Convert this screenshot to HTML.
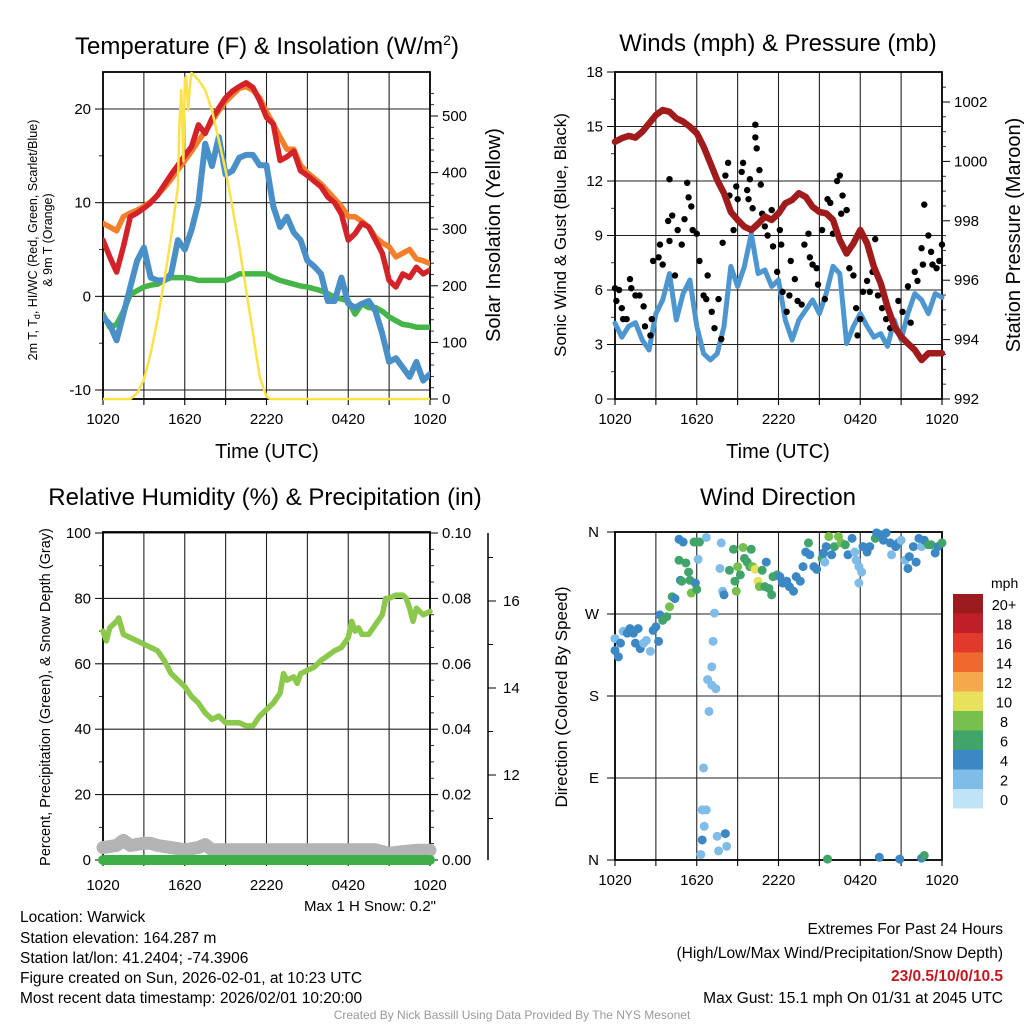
<!DOCTYPE html>
<html><head><meta charset="utf-8">
<style>
html,body{margin:0;padding:0;background:#fff;}
body{width:1024px;height:1024px;overflow:hidden;font-family:"Liberation Sans",Arial,sans-serif;}
svg text{font-family:"Liberation Sans",Arial,sans-serif;fill:#000;}
</style></head>
<body>
<svg id="c" width="1024" height="1024" viewBox="0 0 1024 1024" xmlns="http://www.w3.org/2000/svg">
<g id="static">
<text x="267" y="54" font-size="24" text-anchor="middle">Temperature (F) &amp; Insolation (W/m<tspan font-size="14" dy="-9">2</tspan><tspan dy="9">)</tspan></text>
<text x="778" y="51" font-size="24" text-anchor="middle">Winds (mph) &amp; Pressure (mb)</text>
<text x="265" y="505" font-size="24" text-anchor="middle">Relative Humidity (%) &amp; Precipitation (in)</text>
<text x="778" y="505" font-size="24" text-anchor="middle">Wind Direction</text>
<text x="267" y="458" font-size="20" text-anchor="middle">Time (UTC)</text>
<text x="778" y="458" font-size="20" text-anchor="middle">Time (UTC)</text>
<text transform="translate(37,240) rotate(-90)" font-size="12.5" text-anchor="middle">2m T, T<tspan font-size="9" dy="3">d</tspan><tspan dy="-3">, HI/WC (Red, Green, Scarlet/Blue)</tspan></text>
<text transform="translate(52,240) rotate(-90)" font-size="12.5" text-anchor="middle">&amp; 9m T (Orange)</text>
<text transform="translate(500,235) rotate(-90)" font-size="20" text-anchor="middle">Solar Insolation (Yellow)</text>
<text transform="translate(566,235) rotate(-90)" font-size="17" text-anchor="middle">Sonic Wind &amp; Gust (Blue, Black)</text>
<text transform="translate(1020,235) rotate(-90)" font-size="20" text-anchor="middle">Station Pressure (Maroon)</text>
<text transform="translate(50,697) rotate(-90)" font-size="14.5" text-anchor="middle">Percent, Precipitation (Green), &amp; Snow Depth (Gray)</text>
<text transform="translate(567,697) rotate(-90)" font-size="17" text-anchor="middle">Direction (Colored By Speed)</text>
<text x="436" y="911" font-size="15" text-anchor="end" fill="#222">Max 1 H Snow: 0.2"</text>
<g font-size="15.5">
<text x="20" y="922">Location: Warwick</text>
<text x="20" y="943">Station elevation: 164.287 m</text>
<text x="20" y="963">Station lat/lon: 41.2404; -74.3906</text>
<text x="20" y="983">Figure created on Sun, 2026-02-01, at 10:23 UTC</text>
<text x="20" y="1003">Most recent data timestamp: 2026/02/01 10:20:00</text>
</g>
<g font-size="15.5" text-anchor="end">
<text x="1003" y="934">Extremes For Past 24 Hours</text>
<text x="1003" y="958">(High/Low/Max Wind/Precipitation/Snow Depth)</text>
<text x="1003" y="981" font-weight="bold" style="fill:#c8161d">23/0.5/10/0/10.5</text>
<text x="1003" y="1003">Max Gust: 15.1 mph On 01/31 at 2045 UTC</text>
</g>
<text x="512" y="1019" font-size="12" text-anchor="middle" style="fill:#999">Created By Nick Bassill Using Data Provided By The NYS Mesonet</text>
</g>
</svg>
<script>
// ---------- data ----------
const hourLabels=["1020","1620","2220","0420","1020"];
const halfHours=[0,0.5,1,1.5,2,2.5,3,3.5,4,4.5,5,5.5,6,6.5,7,7.5,8,8.5,9,9.5,10,10.5,11,11.5,12,12.5,13,13.5,14,14.5,15,15.5,16,16.5,17,17.5,18,18.5,19,19.5,20,20.5,21,21.5,22,22.5,23,23.5,24];
const tempRed=[6.0,4.2,2.6,5.3,8.5,8.9,9.4,10,10.8,11.9,13,14,15,16,18.3,17.4,19,20.1,21.2,21.9,22.4,22.8,22.3,20.9,19.1,18.4,14.5,14.9,15.5,13.4,12.9,12.3,11.7,10.6,10,8.8,6,6.7,7.8,7.4,6,4.6,1.7,1,2.4,2,3.1,2.4,2.8];
const tempOrange=[7.8,7.4,7.0,8.5,8.9,9.2,9.6,10.1,10.8,11.6,12.5,13.5,14.5,15.5,16.6,17.6,18.7,19.8,20.8,21.5,22.2,22.4,22,21.2,19.7,18.4,17,15.7,15.7,14,13.2,12.6,12,11.2,10.4,9.6,8.5,8.5,8,7.4,6.3,5.7,5.3,4.2,4.6,5,4,3.8,3.5];
const tempBlue=[-2.2,-3,-4.7,-1.9,1,3.8,5.2,2,1.7,1.7,2.4,6,5,7.1,10,16.3,13.9,17,13,13.4,14.8,15.1,15.1,14,14,9.6,7.4,8.5,6.8,6,3.8,3.2,2.4,-0.5,-0.5,2,-0.8,-1.2,-0.8,-0.5,-1.6,-4,-7,-6.6,-7.6,-8.6,-7,-9,-8.3];
const tempGreen=[-1.9,-3.3,-3,-1.6,0.2,0.6,1,1.2,1.3,1.7,2,2,2,1.9,1.7,1.7,1.7,1.7,1.7,2,2.4,2.4,2.4,2.4,2.4,2,1.7,1.5,1.3,1.1,1,0.8,0.6,0.3,-0.1,-0.3,-0.5,-1.9,-0.8,-1.2,-1.2,-1.6,-2.2,-2.6,-3,-3.1,-3.3,-3.3,-3.3];
const solarHours=[0,2,2.5,3,3.5,4,4.5,5,5.5,5.6,5.75,5.9,6,6.1,6.25,6.4,6.5,7,7.5,8,8.5,9,9.5,10,10.5,11,11.5,12,12.3,24];
const solarValues=[0,0,10,34,81,140,210,286,374,480,546,420,564,570,510,560,576,564,546,510,457,404,339,269,193,117,39,4,0,0];
const pressure=[1000.66,1000.78,1000.86,1000.8,1001,1001.28,1001.56,1001.73,1001.67,1001.45,1001.34,1001.17,1000.95,1000.5,999.94,999.37,998.93,998.3,998.03,997.8,997.69,997.9,998.14,998.03,998.25,998.59,998.7,998.93,998.8,998.47,998.3,998.25,998.03,997.35,996.9,997.24,997.69,997.24,996.45,995.9,995.1,994.44,994.1,993.87,993.65,993.31,993.54,993.54,993.54];
const windSpeed=[4.17,3.4,4,4.2,3.25,2.7,4.7,5.45,6.9,4.35,5.8,6.55,4,2.5,2.15,2.5,4,7.3,6.2,7.3,9.1,6.9,7.1,6.2,6.55,4.35,3.25,4.35,4.9,5.45,4.7,5.8,7.3,6.9,3.05,4,4.7,4,3.4,3.6,2.9,4.35,3.25,4.7,5.8,5.45,4.7,5.8,5.6];
const gustHours=[0,0.3,0.1,0.5,0.6,0.85,1.1,1.2,1.5,1.8,2.1,2.2,2.6,2.7,2.8,3.2,3.3,3.5,3.9,4.0,4.0,4.2,4.4,4.6,4.9,5.1,5.3,5.4,5.6,5.7,6.0,6.2,6.5,6.7,6.8,7.1,7.3,7.6,7.8,7.9,8.1,8.3,8.4,8.7,8.9,9.0,9.3,9.4,9.7,9.8,9.9,10.1,10.3,10.3,10.4,10.6,10.7,10.8,11.0,11.2,11.5,11.6,11.9,12.1,12.2,12.3,12.6,12.8,12.9,13.2,13.4,13.7,13.9,14.2,14.3,14.5,14.8,14.9,15.2,15.4,15.6,15.8,16.0,16.3,16.5,16.6,16.7,17.0,17.2,17.5,17.7,17.8,18.0,18.2,18.5,18.7,18.9,19.1,19.3,19.6,19.9,20.2,20.5,20.8,21.1,21.5,21.7,22.0,22.2,22.5,22.6,22.7,23.0,23.2,23.3,23.6,23.8,24.0];
const gustSpeed=[6.1,6.0,5.4,5.0,4.4,4.4,6.6,6.1,5.7,5.7,5.1,4.0,3.5,4.4,7.6,7.8,8.5,7.4,9.8,12.1,8.7,10.1,6.8,9.3,8.5,9.9,11.9,11.1,10.6,9.3,9.1,7.6,5.7,5.5,6.8,4.8,3.9,5.5,3.3,8.6,12.3,13.0,11.2,9.3,11.7,11.0,12.5,13.0,11.5,11.0,12.1,10.5,14.4,15.1,13.8,12.6,11.8,10.2,9.5,9.0,10.4,8.4,7.0,9.3,8.5,5.9,4.8,5.7,7.6,6.6,5.4,5.2,8.5,9.1,7.8,7.4,7.2,6.3,9.3,5.5,11.0,10.8,9.1,12.0,12.3,10.2,11.2,10.4,7.2,6.8,5.0,3.5,4.4,5.9,6.5,5.9,7.0,8.8,5.7,5.0,4.4,3.9,4.0,5.4,4.8,6.2,4.2,7.0,6.5,8.3,7.4,10.7,9.0,8.1,7.4,7.2,7.6,8.5];
const rhHours=[0,0.25,0.5,1,1.15,1.5,2,2.5,3,4,4.5,5,5.5,6,6.5,7,7.5,8,8.5,9,9.5,10,10.5,11,11.5,12,12.5,13,13.25,13.5,14,14.25,14.5,15,15.5,16,16.5,17,17.5,18,18.25,18.5,18.75,19,19.5,20,20.5,20.75,21,21.5,22,22.25,22.5,22.75,23,23.5,24];
const rhValues=[70,67,71,73,74,69,68,67,66,64,61,57,55,53,50,48,45,43,44,42,42,42,41,41,44,46,48,51,57,55,56,54,57,58,59,61,62.5,64,65,68,73,70,71,69,69,72,75,80,80,81,81,80,77,73,77,75,76];
const snowHours=[0,1,1.5,2,3,3.5,4,5,6,7,7.5,8,10,14,18,20,21,22,23,24];
const snowDepth=[10.33,10.38,10.5,10.38,10.43,10.43,10.38,10.33,10.28,10.33,10.4,10.28,10.28,10.28,10.28,10.28,10.2,10.24,10.27,10.27];
const precipValues=[0,0];
const dirHours=[0,0,0.25,0.4,0.6,0.9,1.1,1.35,1.5,1.7,1.85,2.1,2.3,2.6,2.8,3.0,3.2,3.3,3.5,3.8,4.0,4.2,4.4,4.7,4.8,4.9,4.7,5.0,5.2,5.4,5.5,5.6,5.9,6.0,5.8,6.0,6.2,6.1,6.7,7.3,7.2,7.1,6.8,7.1,7.4,6.9,6.5,6.4,6.7,6.55,6.4,6.3,7.5,7.6,8.1,8.2,7.7,7.8,7.9,8.0,8.4,8.7,8.8,8.9,9.0,9.2,9.4,9.5,9.7,9.9,10.0,10.1,10.3,10.5,10.6,10.8,11.0,11.1,11.3,11.5,11.6,11.9,12.1,12.3,12.6,12.8,13.1,13.3,13.6,13.8,14.0,14.2,14.3,14.6,14.8,15.2,15.3,15.4,15.5,15.7,15.9,16.1,16.4,16.6,16.9,17.1,17.4,17.6,17.7,17.9,18.1,17.9,18.2,18.5,18.7,19.1,19.2,19.5,19.7,19.9,20.2,20.3,20.6,20.8,21.0,21.3,21.5,21.6,21.9,22.1,22.3,22.5,22.7,23.0,23.2,23.5,23.7,24.0,15.6,19.4,20.9,22.5,22.7];
const dirDegrees=[230,243,223,238,251,249,254,249,238,254,232,238,241,229,252,256,240,269,263,267,278,289,287,329,307,306,352,349,326,316,307,293,304,297,349,349,349,330,354,271,240,212,198,192,188,163,101,55,55,37,22,6,26,10,29,15,320,348,295,291,318,341,306,295,322,313,343,331,327,322,341,322,319,306,300,318,300,327,298,291,311,313,311,304,306,300,295,311,306,322,338,348,335,322,319,331,337,327,344,355,335,344,355,348,346,335,353,338,329,322,316,304,344,338,344,353,359,357,351,359,348,335,344,348,351,329,320,333,344,327,353,344,351,346,346,337,344,348,1,3,1,2,5];
const dirSpeed=[4,2,4,4,2,4,4,4,4,4,4,2,2,2,4,4,4,4,6,6,8,6,4,6,4,6,4,4,6,6,6,8,4,6,6,6,6,2,2,2,2,2,2,2,2,2,2,2,2,2,4,2,2,2,4,2,2,2,2,4,6,6,6,8,8,6,8,6,6,6,6,8,10,10,8,6,6,4,6,6,6,6,4,4,4,4,4,4,4,4,4,6,4,4,4,6,4,2,4,8,4,6,8,8,6,4,4,2,2,2,2,2,4,4,4,6,4,4,4,4,4,2,4,4,2,2,4,4,4,4,4,2,4,6,6,4,4,6,6,4,4,4,6];
const colorLabels=["20+","18","16","14","12","10","8","6","4","2","0"];
const colorValues=["#9b1b1f","#c01f28","#df3a2b","#f0692c","#f6a84c","#e7e15b","#78c04d","#41a56a","#3c88c4","#7fbde8","#c0e4f7"];

// ---------- helpers ----------
const NS="http://www.w3.org/2000/svg";
const svg=document.getElementById('c');
function mk(tag,attrs,parent){const e=document.createElementNS(NS,tag);for(const k in attrs)e.setAttribute(k,attrs[k]);(parent||svg).appendChild(e);return e;}
function lin(d0,d1,r0,r1){return v=>r0+(v-d0)*(r1-r0)/(d1-d0);}
function pathD(xs,ys,fx,fy){return xs.map((x,i)=>(i?'L':'M')+fx(x).toFixed(1)+','+fy(ys[i]).toFixed(1)).join('');}

function frame(name,L,R,T,B,fx,labOff){
  const g=mk('g',{});
  
  
  for(let h=0;h<=24;h+=3){mk('line',{x1:fx(h),x2:fx(h),y1:T,y2:B,stroke:'#222','stroke-width':1.1},g);
    mk('line',{x1:fx(h),x2:fx(h),y1:B,y2:B+6,stroke:'#000','stroke-width':1.1},g);}
  for(let i=0;i<5;i++){const t=mk('text',{x:fx(i*6),y:B+(labOff||25),'font-size':15,'text-anchor':'middle'},g);t.textContent=hourLabels[i];
    
    }
  return g;
}
function yAxis(g,ticks,fy,L,R,side,labFmt,minor){
  ticks.forEach(v=>{const y=fy(v);
    if(side==='left'){mk('line',{x1:L,x2:R,y1:y,y2:y,stroke:'#222','stroke-width':1.1},g);mk('line',{x1:L-8,x2:L,y1:y,y2:y,stroke:'#000'},g);}
    else{mk('line',{x1:R,x2:R+8,y1:y,y2:y,stroke:'#000'},g);}
    const t=mk('text',{x:side==='left'?L-12:R+12,y:y+5,'font-size':15,'text-anchor':side==='left'?'end':'start'},g);t.textContent=labFmt(v);
    
    });
  if(minor)minor.forEach(v=>{const y=fy(v);mk('line',{x1:side==='left'?L-4:R,x2:side==='left'?L:R+4,y1:y,y2:y,stroke:'#000','stroke-width':0.8},g);});
}
function box(g,L,R,T,B){mk('rect',{x:L,y:T,width:R-L,height:B-T,fill:'none',stroke:'#000','stroke-width':1.8},g);}
function line(xs,ys,fx,fy,color,w,name){const p=mk('path',{d:pathD(xs,ys,fx,fy),fill:'none',stroke:color,'stroke-width':w,'stroke-linejoin':'round','stroke-linecap':'round'});
  
  return p;}

// ---------- panel 1 ----------
{const L=103,R=430,T=72,B=399;const fx=lin(0,24,L,R);const fy=lin(-10,20,390,109);const fs=lin(0,500,399,116);
 const g=frame('temperature',L,R,T,B,fx);
 yAxis(g,[-10,0,10,20],fy,L,R,'left',v=>v,[-5,5,15]);
 yAxis(g,[0,100,200,300,400,500],fs,L,R,'right',v=>v,[20,40,60,80,120,140,160,180,220,240,260,280,320,340,360,380,420,440,460,480,520,540]);
 const clip=mk('clipPath',{id:'cp1'});mk('rect',{x:L,y:T-2,width:R-L,height:B-T+4},clip);
 const cg=mk('g',{'clip-path':'url(#cp1)'});
 const add=(p)=>{cg.appendChild(p);};
 add(line(halfHours,tempGreen,fx,fy,'#46b548',5.5,'dewpoint-line'));
 add(line(halfHours,tempBlue,fx,fy,'#4a90c8',6,'wind-chill-line'));
 add(line(halfHours,tempOrange,fx,fy,'#f47f2a',5.5,'9m-temperature-line'));
 add(line(halfHours,tempRed,fx,fy,'#d42328',5.5,'2m-temperature-line'));
 add(line(solarHours,solarValues,fx,fs,'#fbe24a',2.5,'solar-insolation-line'));
 box(g,L,R,T,B);}

// ---------- panel 2 ----------
{const L=615,R=942,T=72,B=399;const fx=lin(0,24,L,R);const fy=lin(0,18,399,72);const fp=lin(992,1002,399,102);
 const g=frame('winds',L,R,T,B,fx);
 yAxis(g,[0,3,6,9,12,15,18],fy,L,R,'left',v=>v,[1.5,4.5,7.5,10.5,13.5,16.5]);
 yAxis(g,[992,994,996,998,1000,1002],fp,L,R,'right',v=>v,[992.5,993,993.5,994.5,995,995.5,996.5,997,997.5,998.5,999,999.5,1000.5,1001,1001.5,1002.5]);
 line(halfHours,windSpeed,fx,fy,'#4d96d0',5,'sonic-wind-line');
 const dg=mk('g',{});
 
 
 gustHours.forEach((h,i)=>{const c=mk('circle',{cx:fx(h),cy:fy(gustSpeed[i]),r:3.2,fill:'#000'},dg);
   
   });
 line(halfHours,pressure,fx,fp,'#a01b1b',6.5,'station-pressure-line');
 box(g,L,R,T,B);}

// ---------- panel 3 ----------
{const L=103,R=430,T=532,B=860;const fx=lin(0,24,L,R);const fy=lin(0,100,860,533);const fr=lin(0,0.1,860,533);const fsn=lin(12,16,775,601);
 const g=frame('humidity',L,R,T,B,fx,30);
 yAxis(g,[0,20,40,60,80,100],fy,L,R,'left',v=>v,[10,30,50,70,90]);
 yAxis(g,[0,0.02,0.04,0.06,0.08,0.1],fr,L,R,'right',v=>v.toFixed(2),[0.005,0.01,0.015,0.025,0.03,0.035,0.045,0.05,0.055,0.065,0.07,0.075,0.085,0.09,0.095]);
 const sg=mk('g',{});
 
 
 mk('line',{x1:488,x2:488,y1:533,y2:860,stroke:'#000','stroke-width':1.5},sg);
 [11,12,13,14,15,16,17].forEach(v=>{mk('line',{x1:488,x2:493,y1:fsn(v),y2:fsn(v),stroke:'#000'},sg);});
 [12,14,16].forEach(v=>{mk('line',{x1:488,x2:496,y1:fsn(v),y2:fsn(v),stroke:'#000'},sg);const t=mk('text',{x:503,y:fsn(v)+5,'font-size':15},sg);t.textContent=v;
   
   });
 line(snowHours,snowDepth,fx,fsn,'#b4b4b4',13,'snow-depth-line');
 line([0,24],precipValues,fx,fr,'#3fae46',10,'precipitation-line');
 line(rhHours,rhValues,fx,fy,'#8cc84b',5.5,'relative-humidity-line');
 box(g,L,R,T,B);}

// ---------- panel 4 ----------
{const L=615,R=942,T=532,B=860;const fx=lin(0,24,L,R);const fd=lin(0,360,860,532);
 const g=frame('direction',L,R,T,B,fx);
 const labs=['N','E','S','W','N'];
 [0,90,180,270,360].forEach((v,i)=>{const y=fd(v);mk('line',{x1:L,x2:R,y1:y,y2:y,stroke:'#222','stroke-width':1.1},g);mk('line',{x1:L-8,x2:L,y1:y,y2:y,stroke:'#000'},g);
   const t=mk('text',{x:L-16,y:y+5,'font-size':15,'text-anchor':'end'},g);t.textContent=labs[i];
   
   });
 const pg=mk('g',{});
 
 
 const col=s=>colorValues[10-Math.min(10,Math.round(s/2))];
 dirHours.forEach((h,i)=>{const c=mk('circle',{cx:fx(h),cy:fd(dirDegrees[i]),r:4.5,fill:col(dirSpeed[i])},pg);
   
   });
 box(g,L,R,T,B);
 const lg=mk('g',{});
 
 
 const t0=mk('text',{x:991,y:588,'font-size':14},lg);t0.textContent='mph';
 
 
 colorLabels.forEach((lab,i)=>{const y=594+i*19.5;
   const r=mk('rect',{x:953,y:y,width:30,height:19.5,fill:colorValues[i]},lg);
   
   
   const t=mk('text',{x:1004,y:y+16,'font-size':14.5,'text-anchor':'middle'},lg);t.textContent=lab;
   
   });}
</script>
</body></html>
